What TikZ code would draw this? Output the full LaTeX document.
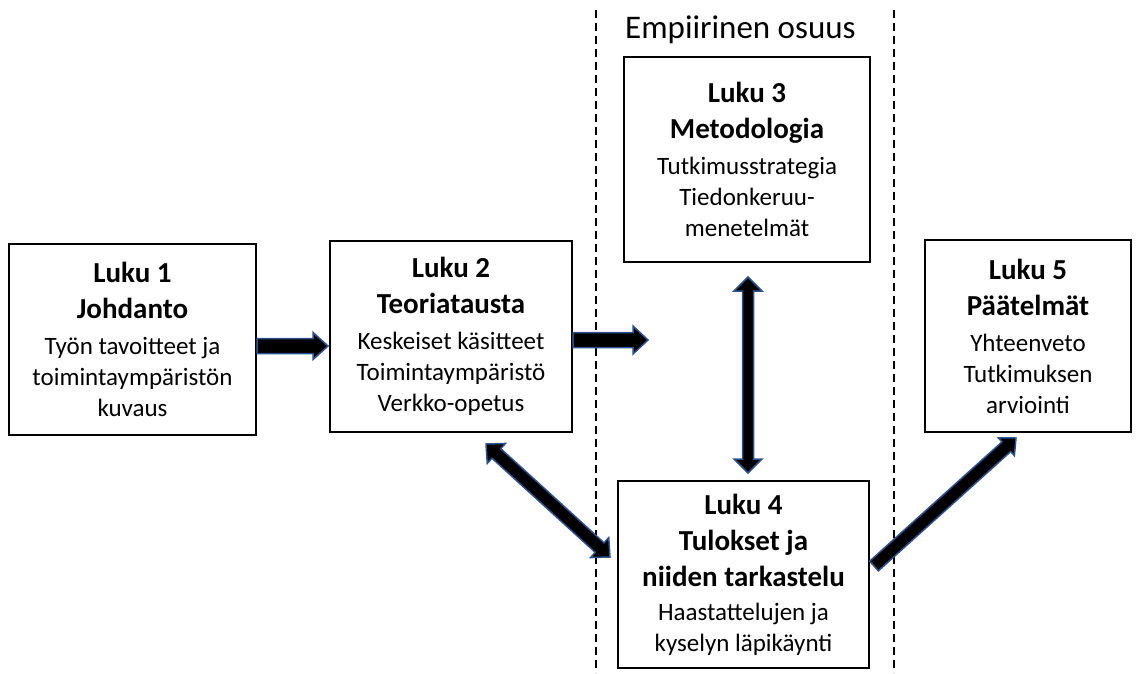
\documentclass[tikz,border=0pt]{standalone}
\usepackage{fontspec}
\setmainfont{Carlito}
\usetikzlibrary{calc}
\definecolor{arrowline}{HTML}{2F528F}
\newcommand\Bf{\fontsize{29}{36}\selectfont\bfseries}
\newcommand\Nf{\fontsize{25}{31}\selectfont}
% single block arrow: from, to, half shaft, half head, head length
\newcommand\blockarr[5]{%
  \coordinate (baB) at ($(#2)!#5!(#1)$);
  \draw[blockarrow] ($(#1)!#3!90:(#2)$) -- ($(baB)!#3!90:(#2)$) -- ($(baB)!#4!90:(#2)$) -- (#2)
    -- ($(baB)!#4!-90:(#2)$) -- ($(baB)!#3!-90:(#2)$) -- ($(#1)!#3!-90:(#2)$) -- cycle;}
% double block arrow
\newcommand\dblarr[5]{%
  \coordinate (baA) at ($(#1)!#5!(#2)$);
  \coordinate (baB) at ($(#2)!#5!(#1)$);
  \draw[blockarrow] (#1) -- ($(baA)!#4!-90:(#2)$) -- ($(baA)!#3!-90:(#2)$) -- ($(baB)!#3!-90:(#2)$)
    -- ($(baB)!#4!-90:(#2)$) -- (#2) -- ($(baB)!#4!90:(#2)$) -- ($(baB)!#3!90:(#2)$)
    -- ($(baA)!#3!90:(#2)$) -- ($(baA)!#4!90:(#2)$) -- cycle;}
\tikzset{
  box/.style={draw=black, line width=1.5pt, inner sep=0pt, align=center, font=\Nf},
  blockarrow/.style={fill=black, draw=arrowline, line width=1.5pt, line join=miter},
  sepline/.style={draw=black, line width=1.5pt, dash pattern=on 8pt off 5pt},
}
\begin{document}
\begin{tikzpicture}[x=1pt,y=-1pt]
\useasboundingbox (0,0) rectangle (1136,673);
% separators
\coordinate (s1t) at (596,10); \coordinate (s1b) at (596,673);
\coordinate (s2t) at (894,10); \coordinate (s2b) at (894,673);
\draw[sepline] (s1t) -- (s1b);
\draw[sepline] (s2t) -- (s2b);
\node[anchor=base west, inner sep=0pt, font=\fontsize{33}{40}\selectfont] (title) at (625,38) {Empiirinen osuus};
% boxes
\node[box, minimum width=247pt, minimum height=191pt] (b1) at (132.5,339.5)
  {{\Bf Luku 1}\\[5pt]{\Bf Johdanto}\\[5pt]Työn tavoitteet ja\\toimintaympäristön\\kuvaus};
\node[box, minimum width=242pt, minimum height=191pt] (b2) at (451,336.5)
  {{\Bf Luku 2}\\[5pt]{\Bf Teoriatausta}\\[5pt]Keskeiset käsitteet\\Toimintaympäristö\\Verkko-opetus};
\node[box, minimum width=246pt, minimum height=205pt] (b3) at (747,159.5)
  {{\Bf Luku 3}\\[5pt]{\Bf Metodologia}\\[5pt]Tutkimusstrategia\\Tiedonkeruu-\\menetelmät};
\node[box, minimum width=251pt, minimum height=187pt] (b4) at (743.5,574.5)
  {{\Bf Luku 4}\\[5pt]{\Bf Tulokset ja}\\[5pt]{\Bf niiden tarkastelu}\\[3pt]Haastattelujen ja\\kyselyn läpikäynti};
\node[box, minimum width=206pt, minimum height=192pt] (b5) at (1028,336)
  {{\Bf Luku 5}\\[5pt]{\Bf Päätelmät}\\[5pt]Yhteenveto\\Tutkimuksen\\arviointi};
% arrow end points
\coordinate (a1s) at (257,346);  \coordinate (a1e) at (328,346);
\coordinate (a2s) at (573,340);  \coordinate (a2e) at (648,340);
\coordinate (a3s) at (486,444);  \coordinate (a3e) at (610,557);
\coordinate (a4s) at (748,277);  \coordinate (a4e) at (748,473);
\coordinate (a5s) at (874,566);  \coordinate (a5e) at (1016,438);
\blockarr{a1s}{a1e}{7.5pt}{13.5pt}{15pt}
\blockarr{a2s}{a2e}{7.5pt}{14pt}{15pt}
\dblarr{a3s}{a3e}{6.5pt}{13.5pt}{14pt}
\dblarr{a4s}{a4e}{5.5pt}{14pt}{14pt}
\blockarr{a5s}{a5e}{6.5pt}{12pt}{13pt}
\end{tikzpicture}
\end{document}
